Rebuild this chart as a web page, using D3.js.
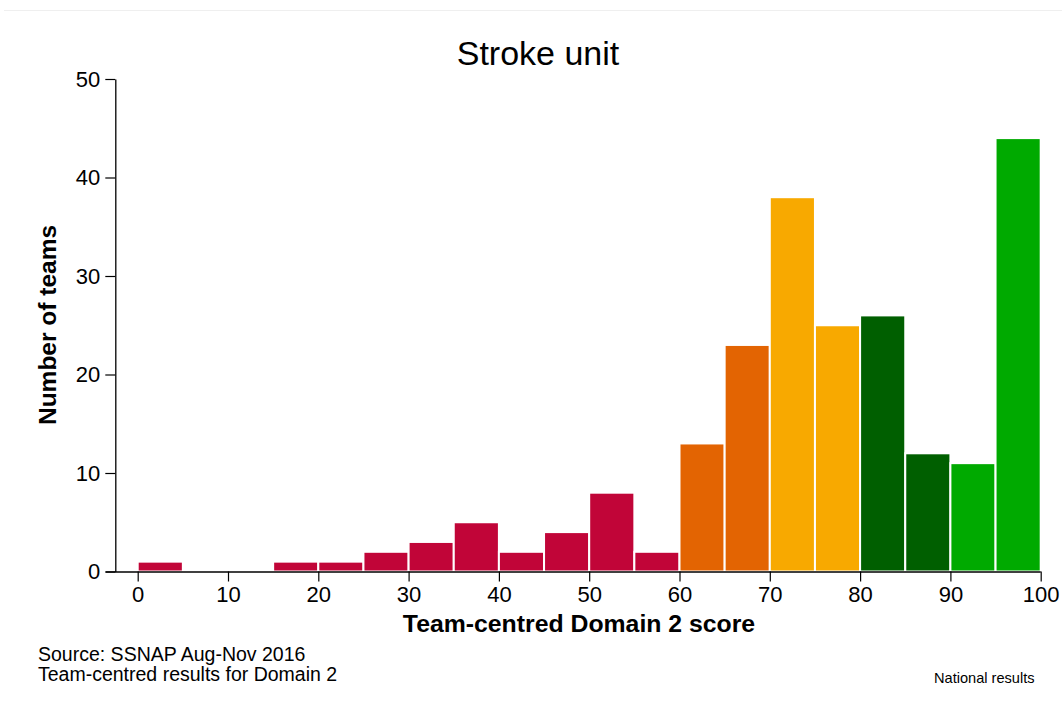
<!DOCTYPE html>
<html>
<head>
<meta charset="utf-8">
<script src="https://cdn.jsdelivr.net/npm/d3@7"></script>
<style>
  body { margin: 0; background: #fff; }
  text { font-family: "Liberation Sans", Arial, sans-serif; fill: #000; }
</style>
</head>
<body>
<svg id="chart"></svg>
<script>
const width = 1062, height = 710;

// histogram bins (lower edge of each 5-point bin) and counts
const binStarts = [0, 5, 10, 15, 20, 25, 30, 35, 40, 45, 50, 55, 60, 65, 70, 75, 80, 85, 90, 95];
const counts    = [1, 0, 0, 1, 1, 2, 3, 5, 2, 4, 8, 2, 13, 23, 38, 25, 26, 12, 11, 44];
const binColors = ["#c10538", "#c10538", "#c10538", "#c10538", "#c10538", "#c10538", "#c10538",
                   "#c10538", "#c10538", "#c10538", "#c10538", "#c10538",
                   "#e36402", "#e36402", "#f8a900", "#f8a900",
                   "#005f00", "#005f00", "#00aa00", "#00aa00"];
const binWidth = 5;
const xTicks = [0, 10, 20, 30, 40, 50, 60, 70, 80, 90, 100];
const yTicks = [0, 10, 20, 30, 40, 50];

const svg = d3.select("#chart").attr("width", width).attr("height", height);

const x = d3.scaleLinear().domain([0, 100]).range([137.7, 1040.7]);
const y = d3.scaleLinear().domain([0, 50]).range([571.5, 79]);

// faint frame line at the top
svg.append("line")
    .attr("x1", 4).attr("x2", width)
    .attr("y1", 10.5).attr("y2", 10.5)
    .attr("stroke", "#efefef");

// bars
svg.append("g").selectAll("rect")
    .data(binStarts.map((b, i) => ({ b, n: counts[i], c: binColors[i] })).filter(d => d.n > 0))
    .enter().append("rect")
    .attr("x", d => x(d.b))
    .attr("y", d => y(d.n))
    .attr("width", d => x(d.b + binWidth) - x(d.b))
    .attr("height", d => y(0) - y(d.n))
    .attr("fill", d => d.c)
    .attr("stroke", "#fff")
    .attr("stroke-width", 2);

// x axis
const xAxis = svg.append("g")
    .attr("transform", `translate(0,${y(0)})`)
    .call(d3.axisBottom(x).tickValues(xTicks).tickSize(10).tickPadding(5).tickSizeOuter(0));
xAxis.select(".domain").attr("d", `M${x(0) - 32},0.5H${x(100)}`).attr("stroke-width", 1.3);
xAxis.selectAll(".tick line").attr("stroke-width", 1.2);
xAxis.selectAll("text").attr("font-size", "22px").attr("font-family", "Liberation Sans, Arial, sans-serif");

// y axis
const yAxis = svg.append("g")
    .attr("transform", "translate(115.3,0)")
    .call(d3.axisLeft(y).tickValues(yTicks).tickSize(10).tickPadding(5).tickSizeOuter(0));
yAxis.select(".domain").attr("stroke-width", 1.3);
yAxis.selectAll(".tick line").attr("stroke-width", 1.2);
yAxis.selectAll("text").attr("font-size", "22px").attr("font-family", "Liberation Sans, Arial, sans-serif");

// titles
svg.append("text")
    .attr("x", 538).attr("y", 65)
    .attr("text-anchor", "middle")
    .attr("font-size", "34px")
    .text("Stroke unit");

svg.append("text")
    .attr("x", 579).attr("y", 632)
    .attr("text-anchor", "middle")
    .attr("font-size", "24.8px")
    .attr("font-weight", "bold")
    .text("Team-centred Domain 2 score");

svg.append("text")
    .attr("transform", "translate(56,325) rotate(-90)")
    .attr("text-anchor", "middle")
    .attr("font-size", "24.5px")
    .attr("font-weight", "bold")
    .text("Number of teams");

// notes
svg.append("text").attr("x", 38).attr("y", 661).attr("font-size", "19.5px")
    .text("Source: SSNAP Aug-Nov 2016");
svg.append("text").attr("x", 38).attr("y", 681).attr("font-size", "19.5px")
    .text("Team-centred results for Domain 2");
svg.append("text").attr("x", 934).attr("y", 683).attr("font-size", "14.6px")
    .text("National results");
</script>
</body>
</html>
